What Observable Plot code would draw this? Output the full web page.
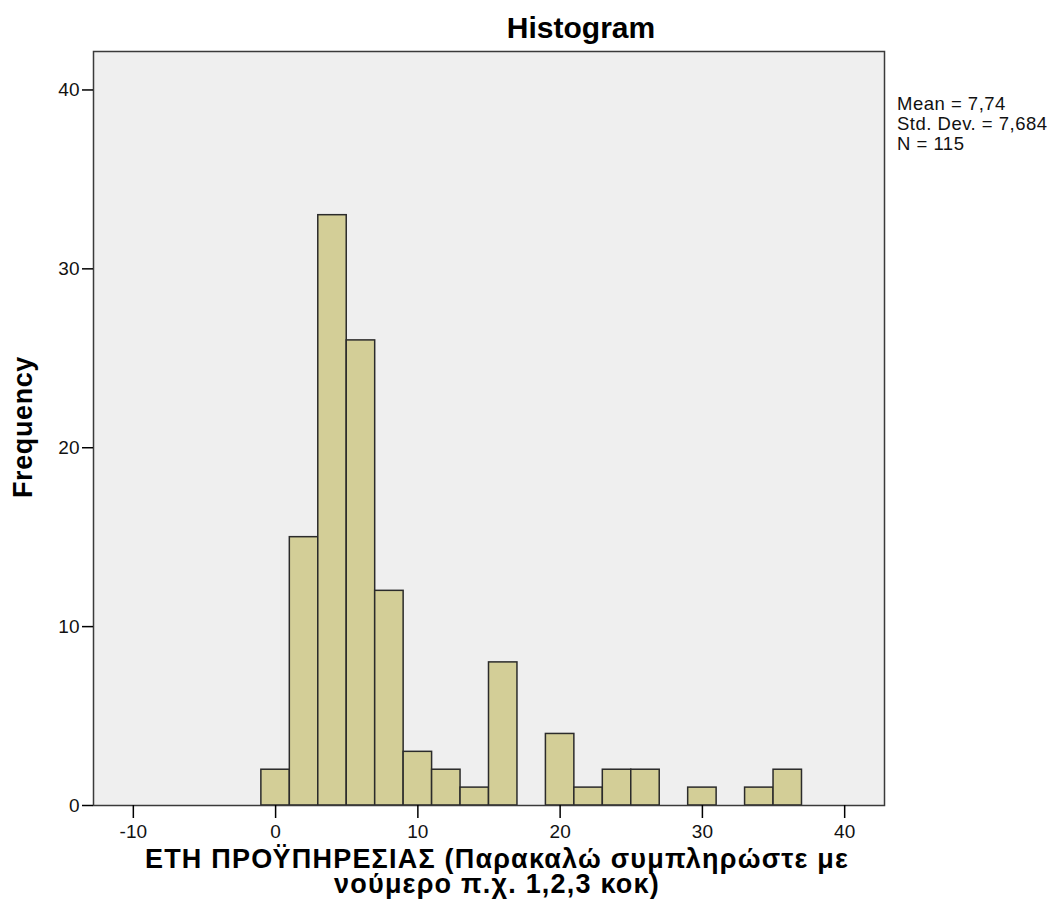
<!DOCTYPE html>
<html>
<head>
<meta charset="utf-8">
<script src="https://cdn.jsdelivr.net/npm/d3@7"></script>
<script src="https://cdn.jsdelivr.net/npm/@observablehq/plot@0.6"></script>
<style>
  html, body { margin: 0; padding: 0; background: #fff; }
  #chart svg { display: block; }
</style>
</head>
<body>
<div id="chart"></div>
<script>
// Histogram bins (width 2, centred on even numbers) and their frequencies
const binStarts = [-1, 1, 3, 5, 7, 9, 11, 13, 15, 17, 19, 21, 23, 25, 27, 29, 31, 33, 35];
const binWidth = 2;
const counts    = [ 2, 15, 33, 26, 12, 3, 2, 1, 8, 0, 4, 1, 2, 2, 0, 1, 0, 1, 2];

const xTicks = [-10, 0, 10, 20, 30, 40];
const yTicks = [0, 10, 20, 30, 40];

const titleText = "Histogram";
const yLabel = "Frequency";
const xLabelLines = ["ΕΤΗ ΠΡΟΫΠΗΡΕΣΙΑΣ (Παρακαλώ συμπληρώστε με", "νούμερο π.χ. 1,2,3 κοκ)"];
const statsLines = ["Mean = 7,74", "Std. Dev. = 7,684", "N = 115"];

const bins = binStarts.map((s, i) => ({x1: s, x2: s + binWidth, count: counts[i]}))
  .filter(d => d.count > 0);

const W = 1059, H = 920;
const font = "'Liberation Sans', Arial, sans-serif";

const chart = Plot.plot({
  width: W,
  height: H,
  marginLeft: 93,
  marginRight: 175,
  marginTop: 51,
  marginBottom: 115,
  style: {fontFamily: font, background: "#fff", overflow: "visible"},
  x: {domain: [-12.8, 42.8], label: null},
  y: {domain: [0, 42.15], label: null},
  marks: [
    Plot.frame({fill: "#efefef", stroke: "none"}),
    Plot.rectY(bins, {x1: "x1", x2: "x2", y: "count", fill: "#d3ce97", stroke: "#2b2b2b", strokeWidth: 1.5, inset: 0}),
    Plot.frame({stroke: "#3a3a3a", strokeWidth: 1.5}),
    Plot.axisX({ticks: xTicks, tickSize: 13, tickPadding: 6, fontSize: 19, stroke: "#000", strokeWidth: 1.5, color: "#111", tickFormat: d => String(d)}),
    Plot.axisY({ticks: yTicks, tickSize: 11, tickPadding: 3, fontSize: 19, stroke: "#000", strokeWidth: 1.5, color: "#111", tickFormat: d => String(d)})
  ]
});

document.getElementById("chart").appendChild(chart);

const svg = d3.select(chart);
svg.append("text")
  .attr("x", 581).attr("y", 38)
  .attr("text-anchor", "middle")
  .attr("font-family", font).attr("font-weight", "bold").attr("font-size", 30)
  .attr("fill", "#000")
  .text(titleText);

svg.append("text")
  .attr("transform", "translate(32,427) rotate(-90)")
  .attr("text-anchor", "middle")
  .attr("font-family", font).attr("font-weight", "bold").attr("font-size", 27)
  .attr("letter-spacing", 0.6)
  .attr("fill", "#000")
  .text(yLabel);

const xl = svg.append("text")
  .attr("text-anchor", "middle")
  .attr("font-family", font).attr("font-weight", "bold").attr("font-size", 27)
  .attr("letter-spacing", 1.2)
  .attr("fill", "#000");
xLabelLines.forEach((t, i) => {
  xl.append("tspan").attr("x", 497).attr("y", 868 + i * 25).text(t);
});

const st = svg.append("text")
  .attr("text-anchor", "start")
  .attr("font-family", font).attr("font-size", 18.5).attr("letter-spacing", 0.5)
  .attr("fill", "#111");
statsLines.forEach((t, i) => {
  st.append("tspan").attr("x", 897).attr("y", 110 + i * 20).text(t);
});
</script>
</body>
</html>
